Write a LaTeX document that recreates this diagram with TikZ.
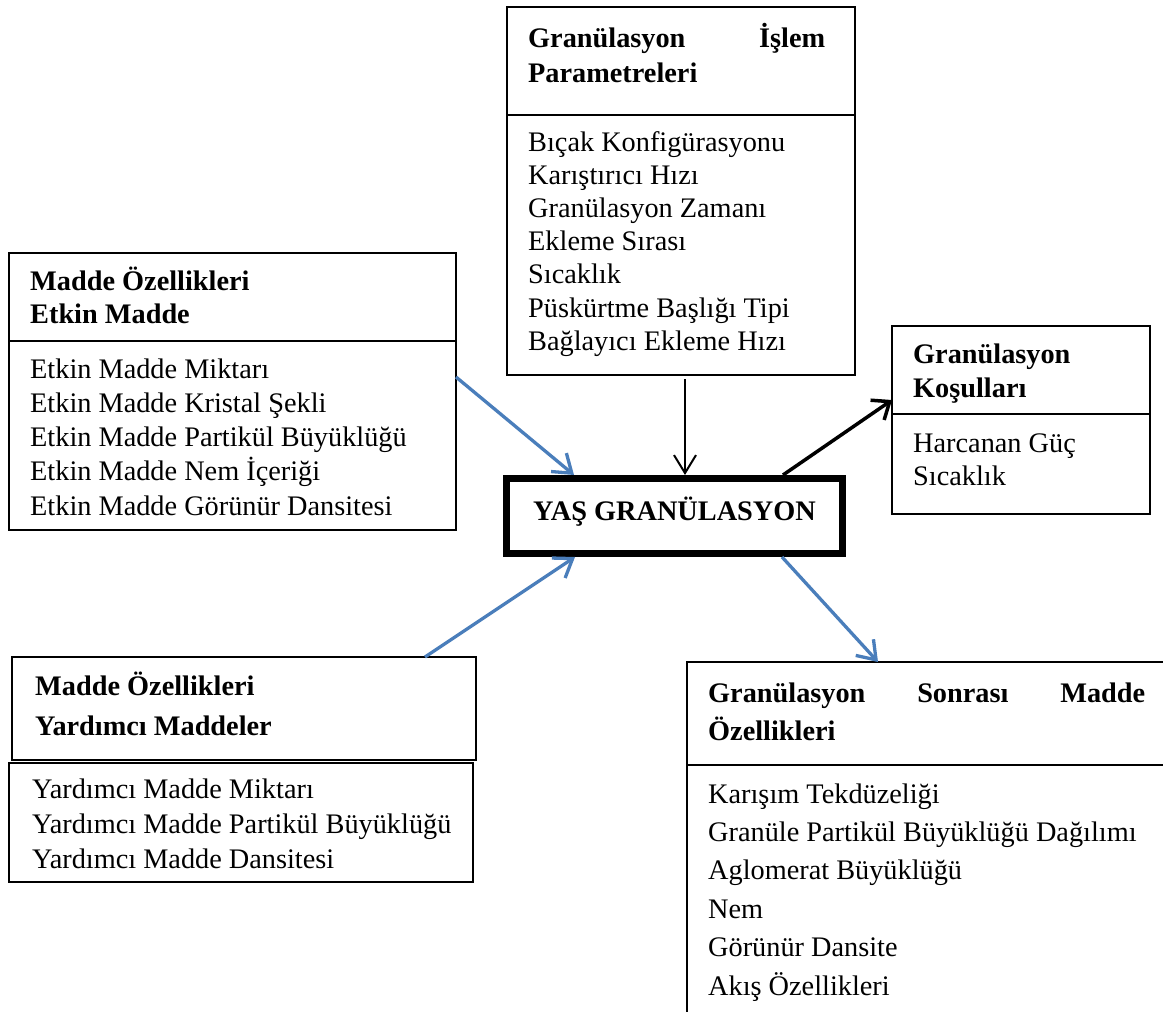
\documentclass[tikz,border=0pt]{standalone}
\usepackage{fontspec}
\setmainfont{Liberation Serif}
\usetikzlibrary{arrows.meta}
\definecolor{arrowblue}{RGB}{74,126,187}
\setlength{\parindent}{0pt}
\begin{document}
\begin{tikzpicture}[x=1pt,y=-1pt,
  frame/.style={draw, line width=1.5pt, rectangle, inner sep=0pt, outer sep=0pt, anchor=north west},
  head/.style 2 args={anchor=base west, inner sep=0pt, align=flush left, text width=#1,
    font=\fontsize{28.3}{#2}\selectfont\bfseries},
  body/.style={anchor=base west, inner sep=0pt, align=flush left, text width=440pt,
    font=\fontsize{28.3}{#1}\selectfont},
  bluearrow/.style={draw=arrowblue, line width=3.3pt, -{Straight Barb[length=17pt,width=24pt]}},
  thinarrow/.style={draw=black, line width=2pt, -{Straight Barb[length=18pt,width=22pt]}},
  thickarrow/.style={draw=black, line width=3.5pt, -{Straight Barb[length=15pt,width=24pt]}}]

\useasboundingbox (0,0) rectangle (1163,1012);
\clip (0,0) rectangle (1163,1012);

% process parameters (top)
\node[frame, minimum width=348pt, minimum height=108pt] (Tt) at (507,7) {};
\node[frame, minimum width=348pt, minimum height=260pt] (Tb) at (507,115) {};
\node[head={297pt}{35}] (Tth) at (528,47) {Granülasyon\hfill İşlem\\Parametreleri};
\node[body=33.2] (Tbl) at (528,151) {Bıçak Konfigürasyonu\\Karıştırıcı Hızı\\Granülasyon Zamanı\\Ekleme Sırası\\Sıcaklık\\Püskürtme Başlığı Tipi\\Bağlayıcı Ekleme Hızı};

% active substance properties (left, upper)
\node[frame, minimum width=447pt, minimum height=88pt] (L1t) at (9,253) {};
\node[frame, minimum width=447pt, minimum height=189pt] (L1b) at (9,341) {};
\node[head={420pt}{33}] (L1th) at (30,290) {Madde Özellikleri\\Etkin Madde};
\node[body=34.3] (L1bl) at (30,378) {Etkin Madde Miktarı\\Etkin Madde Kristal Şekli\\Etkin Madde Partikül Büyüklüğü\\Etkin Madde Nem İçeriği\\Etkin Madde Görünür Dansitesi};

% granulation conditions (right)
\node[frame, minimum width=258pt, minimum height=88pt] (Kt) at (892,326) {};
\node[frame, minimum width=258pt, minimum height=100pt] (Kb) at (892,414) {};
\node[head={230pt}{34}] (Kth) at (913,363) {Granülasyon\\Koşulları};
\node[body=33] (Kbl) at (913,452) {Harcanan Güç\\Sıcaklık};

% excipient properties (left, lower)
\node[frame, minimum width=464pt, minimum height=103pt] (L2t) at (12,657) {};
\node[frame, minimum width=464pt, minimum height=119pt] (L2b) at (9,763) {};
\node[head={430pt}{40}] (L2th) at (35,695) {Madde Özellikleri\\Yardımcı Maddeler};
\node[body=35] (L2bl) at (32,798) {Yardımcı Madde Miktarı\\Yardımcı Madde Partikül Büyüklüğü\\Yardımcı Madde Dansitesi};

% post-granulation properties (bottom right)
\node[frame, minimum width=483pt, minimum height=103pt] (Bt) at (687,662) {};
\node[frame, minimum width=483pt, minimum height=265pt] (Bb) at (687,765) {};
\node[head={437pt}{38}] (Bth) at (708,702) {Granülasyon\hfill Sonrası\hfill Madde\\Özellikleri};
\node[body=38.4] (Bbl) at (708,803) {Karışım Tekdüzeliği\\Granüle Partikül Büyüklüğü Dağılımı\\Aglomerat Büyüklüğü\\Nem\\Görünür Dansite\\Akış Özellikleri};

% central process
\node[draw, line width=7pt, minimum width=336pt, minimum height=75pt, inner sep=0pt,
      text height=18pt, text depth=10pt, font=\fontsize{28.3}{34}\selectfont\bfseries]
      (C) at (674.5,516) {YAŞ GRANÜLASYON};

% connectors
\draw[bluearrow] ([yshift=-36pt]L1b.north east) -- ([xshift=71pt]C.north west);
\draw[bluearrow] ([xshift=-51pt]L2t.north east) -- ([xshift=72pt]C.south west);
\draw[thinarrow] ([xshift=4pt,yshift=-4pt]Tb.south) -- ([xshift=182pt]C.north west);
\draw[thickarrow] ([xshift=280pt]C.north west) -- ([yshift=-74pt]Kt.north west);
\draw[bluearrow] ([xshift=279pt]C.south west) -- ([xshift=191pt]Bt.north west);
\end{tikzpicture}
\end{document}
